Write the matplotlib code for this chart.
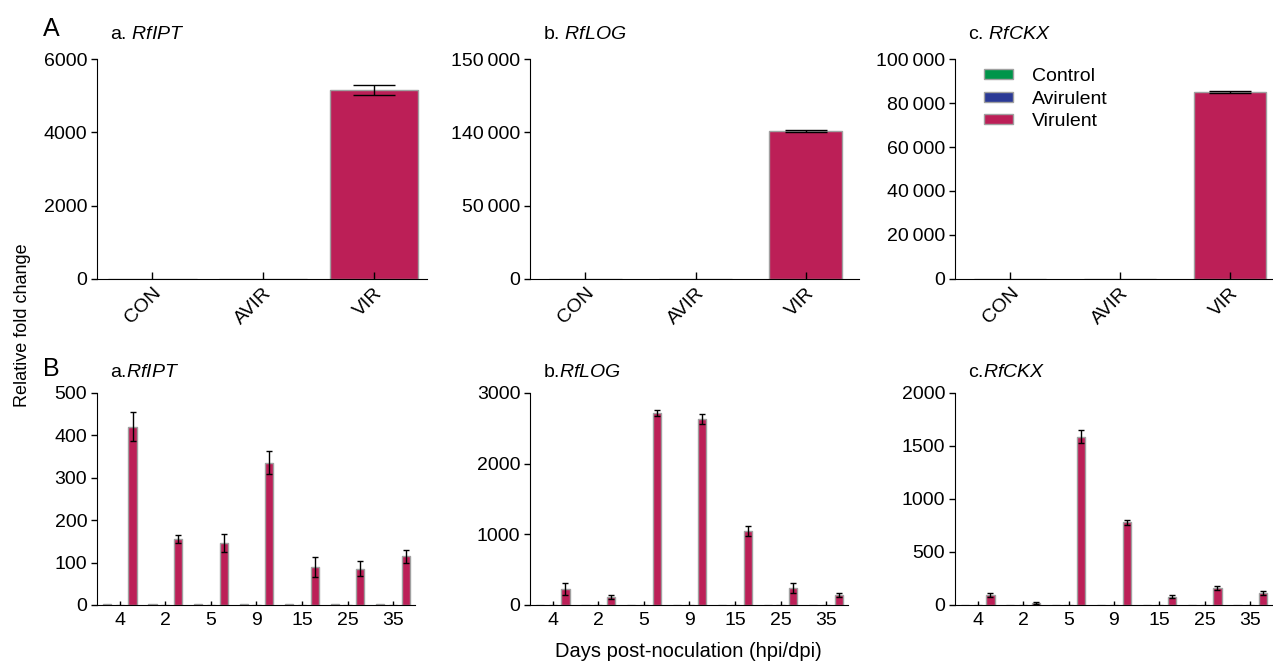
import numpy as np
import matplotlib
matplotlib.use("Agg")
import matplotlib.pyplot as plt
from matplotlib.ticker import FixedLocator, FixedFormatter
from matplotlib.patches import Patch

plt.rcParams['font.family'] = ['Liberation Sans', 'DejaVu Sans']
plt.rcParams['font.size'] = 14
plt.rcParams['mathtext.fontset'] = 'custom'
plt.rcParams['mathtext.it'] = 'Liberation Sans:italic'
plt.rcParams['mathtext.rm'] = 'Liberation Sans'

# Datos del panel A (una barra por tratamiento)
grupos_A = ["CON", "AVIR", "VIR"]
ipt_A = [1, 1, 5150]
ipt_A_err = [0, 0, 140]
log_A = [1, 1, 140200]
log_A_err = [0, 0, 150]
ckx_A = [1, 1, 85000]
ckx_A_err = [0, 0, 400]

# Datos del panel B (tiempos)
tiempos = ["4", "2", "5", "9", "15", "25", "35"]
ipt_con = [2, 2, 2, 2, 2, 2, 2]
ipt_avir = [1, 1, 1, 1, 1, 1, 1]
ipt_vir = [420, 156, 146, 336, 89, 86, 115]
ipt_vir_err = [34, 10, 21, 26, 23, 17, 15]
log_con = [2, 2, 2, 2, 2, 2, 2]
log_avir = [2, 2, 2, 2, 2, 2, 2]
log_vir = [226, 113, 2712, 2637, 1052, 241, 146]
log_vir_err = [85, 25, 40, 70, 70, 75, 28]
ckx_con = [1, 1, 1, 1, 1, 1, 1]
ckx_avir = [1, 1, 1, 1, 1, 1, 1]
ckx_vir = [97, 19, 1588, 780, 79, 160, 113]
ckx_vir_err = [20, 5, 60, 25, 12, 15, 15]

c_con = '#00954A'
c_avir = '#2B3A96'
c_vir = '#BC1F57'
borde = '#A0A0A0'

fig = plt.figure(figsize=(12.73, 6.63), dpi=100)

def limpiar(ax):
    ax.spines['top'].set_visible(False)
    ax.spines['right'].set_visible(False)
    ax.tick_params(axis='y', direction='out', length=4, width=1, pad=3)
    ax.tick_params(axis='x', direction='in', length=5, width=1)

def panel_A(pos, vals, errs, ancho, xmax, titulo, yticks, ylabels, capsize, escala=None):
    ax = fig.add_axes(pos)
    if escala is not None:
        ax.set_yscale('function', functions=escala)
    x = np.arange(len(vals))
    ax.bar(x, vals, width=ancho, color=[c_con, c_avir, c_vir], edgecolor=borde, linewidth=1)
    ax.errorbar(x[2:], vals[2:], yerr=errs[2:], fmt='none', ecolor='black', elinewidth=1, capsize=capsize)
    ax.set_xlim(-0.5, xmax)
    ax.set_ylim(0, yticks[-1])
    ax.yaxis.set_major_locator(FixedLocator(yticks))
    ax.yaxis.set_major_formatter(FixedFormatter(ylabels))
    ax.set_xticks(x)
    ax.set_xticklabels(grupos_A, rotation=45, ha='right', va='top', rotation_mode='anchor')
    limpiar(ax)
    ax.tick_params(axis='x', pad=4)
    ax.text(0.04, 1.09, titulo, transform=ax.transAxes, fontsize=14, va='baseline')
    return ax

def panel_B(pos, con, avir, vir, err, titulo, yticks):
    ax = fig.add_axes(pos)
    x = np.arange(len(tiempos))
    d = 0.28
    w = 0.18
    ax.bar(x - d, con, width=w, color=c_con, edgecolor=borde, linewidth=1)
    ax.bar(x, avir, width=w, color=c_avir, edgecolor=borde, linewidth=1)
    ax.bar(x + d, vir, width=w, color=c_vir, edgecolor=borde, linewidth=1)
    ax.errorbar(x + d, vir, yerr=err, fmt='none', ecolor='black', elinewidth=1, capsize=2)
    ax.set_xlim(-0.5, 6.48)
    ax.set_ylim(0, yticks[-1])
    ax.set_yticks(yticks)
    ax.set_xticks(x)
    ax.set_xticklabels(tiempos)
    limpiar(ax)
    ax.tick_params(axis='x', length=3, pad=5)
    ax.text(0.04, 1.075, titulo, transform=ax.transAxes, fontsize=14, va='baseline')
    return ax

ts = '\u2009'
# escala rota del panel b
nodos = [0, 50000, 140000, 150000]
def fwd(v):
    return np.interp(v, nodos, [0, 1, 2, 3])
def inv(v):
    return np.interp(v, [0, 1, 2, 3], nodos)

panel_A([0.0762, 0.5792, 0.2592, 0.3318], ipt_A, ipt_A_err, 0.8, 2.48,
        r"a. $\it{RfIPT}$", [0, 2000, 4000, 6000], ["0", "2000", "4000", "6000"], 15)
panel_A([0.4163, 0.5792, 0.2584, 0.3318], log_A, log_A_err, 0.66, 2.48,
        r"b. $\it{RfLOG}$", nodos, ["0", "50" + ts + "000", "140" + ts + "000", "150" + ts + "000"], 15,
        escala=(fwd, inv))
axc = panel_A([0.7502, 0.5792, 0.249, 0.3318], ckx_A, ckx_A_err, 0.66, 2.38,
              r"c. $\it{RfCKX}$", [0, 20000, 40000, 60000, 80000, 100000],
              ["0", "20" + ts + "000", "40" + ts + "000", "60" + ts + "000", "80" + ts + "000", "100" + ts + "000"], 15)

h = [Patch(facecolor=c, edgecolor=borde, linewidth=1) for c in (c_con, c_avir, c_vir)]
axc.legend(h, ["Control", "Avirulent", "Virulent"], loc='upper left', bbox_to_anchor=(0.035, 1.04),
           frameon=False, handlelength=1.5, handleheight=0.42, handletextpad=1.0, labelspacing=0.3,
           fontsize=14)

panel_B([0.0762, 0.0875, 0.2498, 0.3198], ipt_con, ipt_avir, ipt_vir, ipt_vir_err,
        r"a.$\it{RfIPT}$", [0, 100, 200, 300, 400, 500])
panel_B([0.4163, 0.0875, 0.2498, 0.3198], log_con, log_avir, log_vir, log_vir_err,
        r"b.$\it{RfLOG}$", [0, 1000, 2000, 3000])
panel_B([0.7502, 0.0875, 0.2490, 0.3198], ckx_con, ckx_avir, ckx_vir, ckx_vir_err,
        r"c.$\it{RfCKX}$", [0, 500, 1000, 1500, 2000])

fig.text(0.034, 0.975, "A", fontsize=18, va='top')
fig.text(0.034, 0.462, "B", fontsize=18, va='top')
fig.text(0.018, 0.51, "Relative fold change", rotation=90, va='center', ha='center', fontsize=13)
fig.text(0.541, 0.003, "Days post-noculation (hpi/dpi)", ha='center', va='bottom', fontsize=14.5)

plt.savefig("out.png", dpi=100)
